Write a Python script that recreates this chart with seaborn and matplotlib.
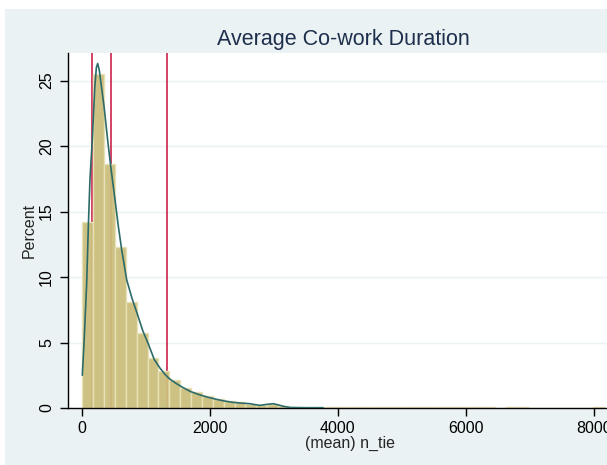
import matplotlib
matplotlib.use("Agg")
import matplotlib.pyplot as plt
import matplotlib.patches as mpatches
import numpy as np
import pandas as pd
import seaborn as sns

# histogram of (mean) n_tie, percent per bin (bin width ~170, start ~5)
bin_start = 5
bin_width = 170
pct = [14.2, 25.5, 18.65, 12.3, 8.1, 5.7, 3.85, 2.8, 2.1, 1.55,
       1.25, 0.95, 0.72, 0.52, 0.43, 0.33, 0.2, 0.33, 0.15, 0.05,
       0.04, 0.04, 0.04, 0.04, 0.04, 0.04, 0.04, 0.04, 0.04, 0.04,
       0.04, 0.04, 0.04, 0.04, 0.04, 0.04, 0.04, 0.04, 0.0, 0.04,
       0.04, 0.0, 0.0, 0.0, 0.0, 0.0, 0.0, 0.04]

# kernel density overlay (scaled to percent)
kde_x = [5, 31, 73, 100, 125, 161, 200, 225, 245, 270, 345, 400, 450, 516,
         570, 620, 698, 780, 870, 950, 1036, 1130, 1219, 1300, 1375, 1480,
         1583, 1700, 1844, 1970, 2104, 2230, 2365, 2500, 2625, 2700, 2781,
         2880, 2990, 3080, 3150, 3250, 3500, 3770]
kde_y = [2.5, 4.9, 9.5, 14.0, 17.5, 20.5, 24.5, 26.0, 26.3, 25.8, 23.0, 20.5,
         18.4, 15.9, 13.8, 12.1, 9.8, 8.4, 7.1, 5.9, 4.9, 3.7, 3.05, 2.55,
         2.2, 1.85, 1.55, 1.25, 1.0, 0.82, 0.66, 0.53, 0.43, 0.37, 0.33, 0.26,
         0.2, 0.27, 0.33, 0.22, 0.13, 0.04, 0.02, 0.02]

# vertical reference lines
ref_lines = [160, 448, 1328]

edges = bin_start + bin_width * np.arange(len(pct) + 1)
hist_df = pd.DataFrame({"n_tie": (edges[:-1] + edges[1:]) / 2, "pct": pct})

sns.set_style("white")
plt.rcParams["font.family"] = ["Liberation Sans", "DejaVu Sans"]

fig = plt.figure(figsize=(6.07, 4.65), dpi=100)
fig.patch.set_facecolor("white")
fig.patches.append(mpatches.Rectangle((5 / 607, 0), 1, 1 - 9 / 465,
                                      transform=fig.transFigure,
                                      facecolor="#eaf2f3", edgecolor="none",
                                      zorder=-10))

ax = fig.add_axes([68 / 607, 1 - 408 / 465, 564 / 607, 355 / 465])
ax.set_zorder(5)
ax.set_facecolor("white")

for v in ref_lines:
    ax.axvline(v, color="#c8103c", lw=1.1, zorder=1)

sns.histplot(data=hist_df, x="n_tie", weights="pct", binwidth=bin_width,
             binrange=(float(edges[0]), float(edges[-1])), ax=ax,
             color="#cbbf7c", alpha=0.95, edgecolor="#e8e1b8", linewidth=1.0,
             zorder=2)
sns.lineplot(x=kde_x, y=kde_y, ax=ax, color="#2d6b68", lw=1.2, zorder=3)

ax.set_xlim(-219, 8600)
ax.set_ylim(0, 27.1)
ax.set_xticks([0, 2000, 4000, 6000, 8000])
ax.set_yticks([0, 5, 10, 15, 20, 25])
for yv in [5, 10, 15, 20, 25]:
    ax.axhline(yv, color="#eaf2f3", lw=1, zorder=0.5)

for s in ["top", "right"]:
    ax.spines[s].set_visible(False)
for s in ["left", "bottom"]:
    ax.spines[s].set_color("black")
    ax.spines[s].set_linewidth(1)

ax.tick_params(axis="both", direction="out", length=6, width=1,
               colors="black", labelsize=11.5, bottom=True, left=True)
ax.tick_params(axis="y", pad=4)
for lab in ax.get_yticklabels():
    lab.set_rotation(90)
    lab.set_va("center")

ax.set_xlabel("(mean) n_tie", fontsize=11.5, labelpad=0)
ax.set_ylabel("Percent", fontsize=11.5, labelpad=2)

fig.text(343 / 607, 1 - 40 / 465, "Average Co-work Duration",
         fontsize=15.5, color="#1e2f4d", ha="center", va="center")

fig.savefig("out.png", dpi=100)
